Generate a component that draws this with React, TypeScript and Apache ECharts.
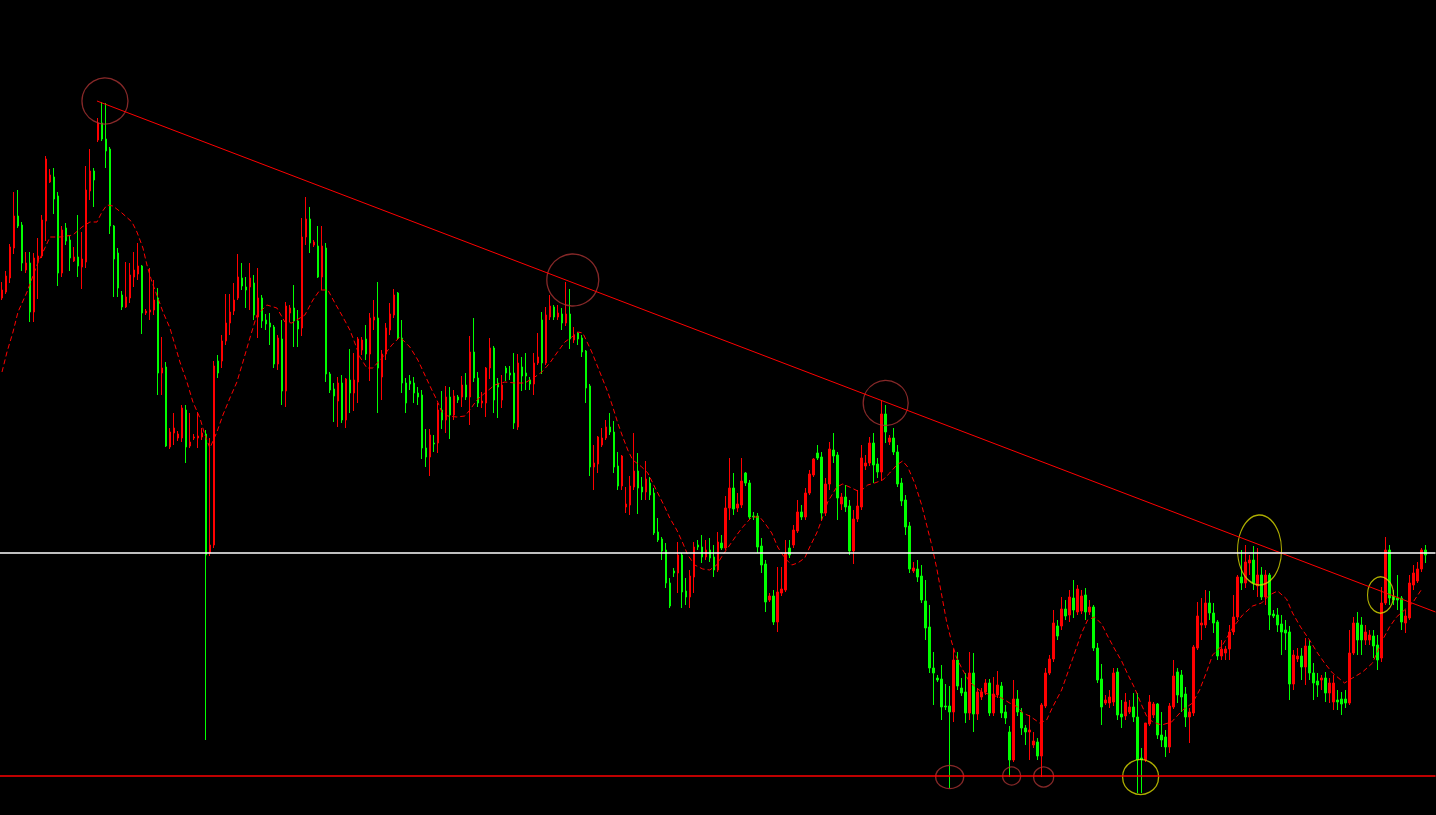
import React, { useEffect, useRef } from "react";
import * as echarts from "echarts";

// Price units (arbitrary, chart shows no axis). One slot per bar, 359 slots (last two empty = chart shift).
const SLOTS = 359;

const opens = [
  702,708,722,752,784,775,730,737,688,739,
  744,779,818,823,804,727,772,760,739,743,
  733,738,809,829,860,877,861,851,774,747,
  705,693,702,723,726,734,687,688,690,702,
  627,633,553,567,562,562,590,554,562,562,
  563,566,447,455,639,639,659,677,689,702,
  722,713,713,717,683,702,680,677,673,636,
  661,609,687,692,679,672,763,781,755,754,
  723,752,626,611,599,617,580,620,607,618,
  650,661,646,680,682,623,646,670,685,707,
  662,617,619,617,607,605,552,543,557,557,
  590,580,603,585,603,603,615,603,648,622,
  597,597,632,652,617,600,632,627,627,573,
  633,627,620,616,637,680,637,683,693,683,
  686,677,686,660,667,662,649,614,533,536,
  555,562,573,568,534,514,493,495,513,529,
  513,508,517,507,468,461,450,417,429,427,
  445,409,403,423,455,453,443,450,443,430,
  457,452,492,512,492,495,527,517,484,484,
  454,436,400,404,378,407,410,452,455,469,
  488,483,507,525,547,543,487,516,550,545,
  496,503,494,449,481,493,534,537,557,536,
  528,586,558,562,548,517,500,474,429,431,
  424,399,373,332,322,321,294,294,288,340,
  312,308,287,327,286,303,308,317,287,305,
  314,288,268,240,301,288,272,268,255,258,
  244,294,327,341,374,374,391,385,402,388,
  389,405,388,393,352,321,297,297,298,328,
  286,284,288,293,283,242,240,276,285,296,
  265,263,253,293,328,325,306,283,287,352,
  375,375,397,387,378,344,347,351,368,383,
  423,417,437,440,414,425,403,425,386,385,
  376,370,368,316,341,344,333,354,327,319,
  320,322,307,298,300,301,301,297,347,377,
  375,360,360,364,355,342,397,450,404,402,
  402,377,382,415,419,431,450,
];

const closes = [
  710,724,753,784,774,737,737,688,742,744,
  780,841,825,801,727,770,759,742,743,734,
  741,810,829,820,877,861,849,774,741,712,
  693,703,725,730,734,687,689,690,700,627,
  632,554,568,572,566,592,553,558,563,564,
  567,445,455,634,627,659,677,688,700,723,
  714,710,722,685,702,679,676,673,636,662,
  609,694,692,679,671,763,781,757,758,723,
  754,626,610,604,617,580,621,607,620,661,
  660,646,682,683,632,646,672,686,705,662,
  617,597,616,607,603,552,543,565,556,590,
  580,603,585,604,600,615,603,648,622,597,
  599,632,652,600,613,615,627,625,577,637,
  624,624,616,637,643,637,685,694,683,687,
  677,686,661,665,661,648,612,533,537,563,
  562,573,568,533,514,544,496,514,529,512,
  508,521,505,467,460,449,417,394,427,445,
  408,403,424,453,453,443,450,442,430,458,
  452,492,512,491,496,519,517,483,483,453,
  435,398,404,378,408,411,447,445,470,488,
  483,507,526,541,542,487,516,551,544,502,
  503,493,449,481,494,542,537,557,535,528,
  586,568,562,548,516,499,473,431,432,423,
  400,372,332,327,320,293,293,288,340,314,
  307,287,327,286,308,308,317,287,306,315,
  287,282,240,301,288,272,268,270,259,244,
  295,327,341,377,364,391,384,403,390,411,
  404,388,393,352,320,293,300,303,327,285,
  283,298,293,283,240,240,277,298,296,265,
  260,253,294,324,305,303,283,288,353,384,
  377,397,387,377,344,351,351,368,383,423,
  417,438,440,417,425,403,425,385,384,375,
  368,367,316,345,344,333,354,327,317,315,
  322,307,317,317,298,296,297,347,377,360,
  360,368,365,354,340,397,450,402,400,400,
  378,384,417,427,431,450,445,
];

const lows = [
  700,706,717,746,772,729,727,678,678,701,
  742,759,817,786,714,723,755,729,738,723,
  711,732,800,793,858,859,832,766,703,703,
  690,692,697,713,720,666,685,680,685,605,
  605,553,551,555,559,558,537,552,560,552,
  560,260,444,452,622,632,655,665,685,700,
  710,692,690,680,662,672,670,655,632,630,
  595,593,678,653,653,664,755,747,753,722,
  710,618,607,578,573,577,572,587,589,597,
  645,640,619,670,587,600,640,665,682,660,
  607,587,610,597,595,541,533,524,548,547,
  571,567,561,580,597,593,600,575,618,593,
  592,583,621,587,582,592,619,620,571,570,
  609,610,610,605,635,626,635,680,680,680,
  670,674,651,657,655,643,597,524,510,527,
  553,560,565,527,510,510,487,485,510,486,
  500,500,500,465,458,440,412,392,423,407,
  392,395,392,407,450,437,440,438,423,428,
  450,450,480,485,488,492,514,480,480,447,
  427,388,398,375,368,404,408,442,452,467,
  480,480,505,523,540,480,484,510,537,480,
  490,488,445,436,478,490,530,534,517,522,
  519,557,555,545,513,494,465,427,427,418,
  397,360,327,295,318,280,290,212,278,310,
  304,277,280,268,280,300,305,284,284,302,
  282,276,223,238,284,265,255,240,252,240,
  223,292,325,338,360,370,380,378,382,385,
  386,380,385,349,317,275,295,292,294,280,
  272,280,286,278,207,207,238,274,282,261,
  253,243,247,291,297,288,273,257,284,350,
  360,372,380,367,340,340,340,340,365,380,
  410,412,425,410,403,400,395,370,382,368,
  345,350,300,310,338,320,315,320,300,303,
  310,298,297,290,290,285,292,295,345,345,
  345,355,355,342,330,338,395,395,395,390,
  370,367,380,410,417,428,437,
];

const highs = [
  718,729,756,808,810,778,748,748,747,762,
  785,844,831,832,808,774,777,764,753,785,
  768,834,851,832,882,898,897,853,775,752,
  709,738,737,748,757,735,691,732,720,712,
  663,638,572,587,569,595,595,587,566,588,
  572,570,562,639,645,665,706,706,717,746,
  737,723,737,725,732,705,686,687,675,665,
  680,698,695,715,690,782,803,793,760,774,
  774,757,628,617,623,625,622,651,647,663,
  663,675,687,700,718,650,677,697,711,708,
  680,622,625,623,613,610,571,571,565,597,
  609,614,613,610,605,624,627,664,682,628,
  608,633,662,654,622,625,634,634,647,646,
  643,647,623,647,667,688,693,705,695,695,
  692,718,711,673,668,665,650,616,555,564,
  572,580,587,579,548,545,513,524,567,547,
  523,539,523,512,482,463,457,422,432,458,
  447,422,430,458,460,465,460,462,455,468,
  465,504,542,527,507,542,528,520,488,487,
  462,440,407,410,433,433,460,460,475,500,
  495,512,530,542,555,548,522,558,567,548,
  507,515,500,490,510,555,545,563,567,542,
  600,595,565,572,555,522,505,478,438,440,
  435,420,395,348,325,335,316,314,351,348,
  322,327,348,347,312,312,321,321,323,329,
  318,295,274,320,310,292,275,285,268,262,
  297,332,345,390,380,403,400,410,420,415,
  410,412,400,395,357,336,305,310,332,332,
  300,307,300,307,307,252,277,305,298,297,
  288,270,297,340,332,330,313,292,355,398,
  402,410,409,397,380,360,354,375,405,425,
  450,455,445,454,452,433,430,427,390,392,
  385,380,374,350,352,352,362,360,337,327,
  325,328,322,325,310,308,310,370,383,388,
  383,375,370,370,365,413,463,455,410,425,
  404,390,425,435,438,452,455,
];

// Moving average (dashed), read at bar positions
const maIndex = [
  0,1.25,2.75,4,6.25,8.75,12,14.5,17.75,20,22,23.75,25,26.25,27.75,30,32.5,33.75,35.25,36.25,
  37.5,39,40.25,42,43.25,44.5,46.25,47.75,49.5,50.75,52,53.75,55.25,57,58.75,60.25,62,63.75,66.25,68.75,
  70.75,72.5,75.75,77.75,79.5,81.5,83.25,85.25,87,88.25,89.5,91.25,92.75,95,97.5,99.5,102,104,105.75,107.5,
  108.75,110,111.5,113.75,115.75,117,118.75,120.75,123.25,125.75,128.25,130.75,133.25,135,137,138.75,140.75,142.5,144,145.25,
  147.5,149,150,151.5,152.75,154,155.25,156.5,157.75,160,161.5,162.75,164,165.75,167,168.75,170.25,171.5,173.25,175.25,
  177,178.75,180.25,182,183.75,185.25,187.5,189.5,190.75,192.5,194,195.75,197.5,199,200.75,202,203.75,205,206.5,208.75,
  210.25,212.5,214.5,216.5,218.25,220.25,222,223.75,225.25,226.5,228.25,230,231.25,232.5,233.75,235,236.25,237.5,238.75,240,
  242,245,247.5,250,252,254,255.25,257,259.5,261.25,262.75,265,266.5,268.25,270,271.5,273.25,275,276.5,278.25,
  280,281.5,283.25,285,286.25,287.75,290,292.5,295.25,297.75,299.5,301.25,302.75,305.25,307.75,310.25,312.75,315,317,319,
  321.25,322.75,324.75,327,329,330.75,332.75,335.75,337.75,340.25,342.75,345.25,347,348.75,350.75,352.75,355.25,
];
const maValue = [
  628,648,668,688,708,735,763,763,765,773,778,778,788,795,794,787,778,768,752,735,
  718,702,688,672,655,638,618,598,582,565,552,568,585,602,618,638,662,685,695,692,
  678,677,685,700,710,710,697,683,670,657,643,632,632,642,655,663,653,640,625,610,
  600,588,584,583,584,590,600,607,615,618,617,617,623,628,637,647,658,663,668,667,
  648,633,623,608,593,577,563,550,540,533,527,517,507,493,482,470,457,445,435,431,
  430,435,445,455,465,473,483,483,477,467,453,442,435,437,442,453,467,480,498,513,
  516,512,508,515,517,520,527,535,539,533,517,495,475,455,432,405,378,358,342,332,
  318,308,305,302,297,293,287,284,277,280,293,310,327,347,367,380,383,376,364,351,
  339,326,312,295,284,278,275,278,290,297,310,328,345,355,372,385,394,397,405,409,
  401,387,373,360,347,337,327,317,322,328,337,360,373,383,390,397,412,
];

// Straight trend line through the swing highs
const trendIndex = [23.75, 358.5];
const trendValue = [899, 388];

// Horizontal levels
const resistanceLevel = 447;
const supportLevel = 224;

// Hand-drawn circle markers
const markIndex = [25.75, 142.75, 221, 237, 252.5, 260.5, 284.75, 314.5, 344.75];
const markValue = [899, 720, 597, 223, 224, 223, 223, 450, 405];
const markWidth = [46, 52, 45, 28, 18, 20, 36, 44, 26];
const markHeight = [46, 52, 45, 23, 18, 20, 35, 70, 36];
const markKind = ["red", "red", "red", "red", "red", "red", "yellow", "yellow", "yellow"];

export default function App() {
  const ref = useRef<HTMLDivElement>(null);
  useEffect(() => {
    if (!ref.current) return;
    const chart = echarts.init(ref.current, null, { renderer: "svg" });
    const categories = Array.from({ length: SLOTS }, (_, i) => String(i));
    const candles = opens.map((o, i) => [o, closes[i], lows[i], highs[i]]);
    const ma = maIndex.map((x, i) => [x, maValue[i]]);
    const trend = trendIndex.map((x, i) => [x, trendValue[i]]);
    const marks = markIndex.map((x, i) => ({
      value: [x, markValue[i]],
      symbolSize: [markWidth[i], markHeight[i]],
      itemStyle: {
        color: "rgba(0,0,0,0)",
        borderColor: markKind[i] === "red" ? "#a83232" : "#d8d800",
        borderWidth: 1.3,
      },
    }));
    chart.setOption({
      animation: false,
      backgroundColor: "#000000",
      grid: { left: -0.5, right: 0.5, top: 0, bottom: 0 },
      xAxis: [
        { type: "category", data: categories, boundaryGap: true, show: false },
        { type: "value", min: -0.5, max: SLOTS - 0.5, show: false },
      ],
      yAxis: { type: "value", min: 185, max: 1000, show: false, splitLine: { show: false } },
      series: [
        {
          type: "candlestick",
          data: candles,
          barWidth: 2,
          silent: true,
          itemStyle: {
            color: "#ff0000",
            color0: "#00ff00",
            borderColor: "#ff0000",
            borderColor0: "#00ff00",
            borderWidth: 1,
          },
          markLine: {
            silent: true,
            symbol: "none",
            label: { show: false },
            data: [
              { yAxis: resistanceLevel, lineStyle: { color: "#ffffff", width: 1.5, type: "solid" } },
              { yAxis: supportLevel, lineStyle: { color: "#ff0000", width: 1.5, type: "solid" } },
            ],
          },
        },
        {
          type: "line",
          xAxisIndex: 1,
          data: ma,
          symbol: "none",
          silent: true,
          lineStyle: { color: "#ff0000", width: 1, type: [5, 3] },
        },
        {
          type: "line",
          xAxisIndex: 1,
          data: trend,
          symbol: "none",
          silent: true,
          lineStyle: { color: "#ff0000", width: 1 },
        },
        {
          type: "scatter",
          xAxisIndex: 1,
          data: marks,
          symbol: "circle",
          silent: true,
        },
      ],
    });
    return () => chart.dispose();
  }, []);
  return (
    <div
      ref={ref}
      style={{ position: "fixed", left: 0, top: 0, width: 1436, height: 815, background: "#000" }}
    />
  );
}
